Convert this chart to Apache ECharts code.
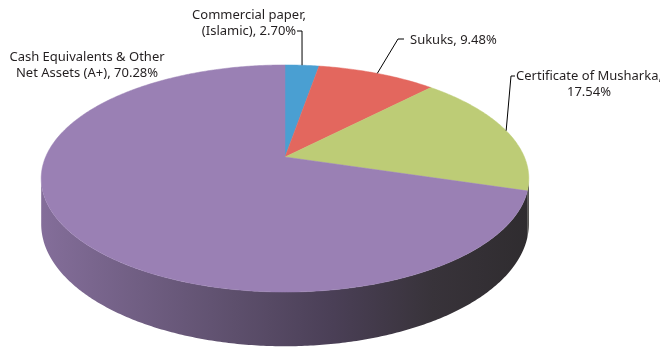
<!DOCTYPE html>
<html><head><meta charset="utf-8">
<script src="https://cdn.jsdelivr.net/npm/echarts@6/dist/echarts.min.js"></script>
<style>html,body{margin:0;padding:0;background:#fff}#c{width:660px;height:349px}</style>
</head><body><div id="c"></div>
<script>
// ---- data ----
const categories = ['Commercial paper,\n(Islamic)', 'Sukuks', 'Certificate of Musharka', 'Cash Equivalents & Other\nNet Assets (A+)'];
const values = [2.70, 9.48, 17.54, 70.28];
const colors = ['#4a9fd2', '#e3675e', '#bdcc76', '#9a80b4'];

// ---- label placement (annotation layout, not data) ----
const labelLayout = [
  {sep: ', ', x: 249, y: 23, align: 'center', path: [[302, 31], [297, 31]]},
  {sep: ', ', x: 410, y: 40, align: 'left', path: [[398, 39], [404, 39]]},
  {sep: ',\n', x: 589, y: 84, align: 'center', path: [[511, 76], [515, 76]]},
  {sep: ', ', x: 87, y: 65, align: 'center', path: null}
];

// ---- projection of a tilted disc (perspective) ----
const CX = 285, CY = 157, F = 1264, G = 578, Z0 = 5.28, D = 232;
function proj(th, h) {
  const X = Math.sin(th), Y = -Math.cos(th), z = Z0 - Y;
  return [CX + F * X / z, CY + G * Y / z + h * D / z];
}
const total = values.reduce((a, b) => a + b, 0);
const cum = [];
values.reduce((a, v, i) => { cum[i] = a; return a + v; }, 0);
const VIS0 = Math.PI / 2 + Math.asin(1 / Z0), VIS1 = 3 * Math.PI / 2 - Math.asin(1 / Z0);

function hex(c) { return [1, 3, 5].map(i => parseInt(c.substr(i, 2), 16)); }
function mix(a, b, t) {
  const A = hex(a), B = hex(b);
  return 'rgb(' + A.map((v, i) => Math.round(v + (B[i] - v) * t)).join(',') + ')';
}
function arc(a0, a1, h) {
  const pts = [], n = Math.max(2, Math.ceil((a1 - a0) / 0.01));
  for (let k = 0; k <= n; k++) pts.push(proj(a0 + (a1 - a0) * k / n, h));
  return pts;
}

const chart = echarts.init(document.getElementById('c'), null, {renderer: 'canvas'});
chart.setOption({
  animation: false,
  series: [{
    type: 'custom',
    coordinateSystem: 'none',
    data: values.map((v, i) => ({value: v, name: categories[i]})),
    renderItem: function (params, api) {
      const i = params.dataIndex;
      const v = api.value(0);
      const a0 = cum[i] / total * 2 * Math.PI, a1 = (cum[i] + v) / total * 2 * Math.PI;
      const col = colors[i];
      const children = [];
      // side
      const s0 = Math.max(a0, VIS0), s1 = Math.min(a1, VIS1);
      if (s1 > s0) {
        const pts = arc(s0, s1, 0).concat(arc(s0, s1, 1).reverse());
        children.push({
          type: 'polygon', z2: 1, shape: {points: pts},
          style: {
            fill: {type: 'linear', x: 40, y: 0, x2: 530, y2: 0, global: true, colorStops: [
              {offset: 0, color: mix(col, '#2b2631', 0.2)},
              {offset: 0.4, color: mix(col, '#2b2631', 0.55)},
              {offset: 0.6, color: mix(col, '#2b2631', 0.72)},
              {offset: 0.8, color: mix(col, '#2b2829', 0.88)},
              {offset: 1, color: mix(col, '#2b2829', 0.96)}
            ]},
            stroke: null
          }
        });
      }
      // top
      const top = [[CX, CY]].concat(arc(a0, a1, 0));
      children.push({type: 'polygon', z2: 2, shape: {points: top}, style: {fill: col, stroke: col, lineWidth: 0.5}});
      // label
      const L = labelLayout[i];
      const txt = categories[i] + L.sep + v.toFixed(2) + '%';
      children.push({
        type: 'text', z2: 5, x: L.x, y: L.y,
        style: {text: txt, fill: '#231f20', font: '13px "Noto Sans"', align: L.align, verticalAlign: 'middle', lineHeight: 16}
      });
      if (L.path) {
        const m = proj((a0 + a1) / 2, 0);
        children.push({
          type: 'polyline', z2: 5, shape: {points: [m].concat(L.path)},
          style: {stroke: '#000', lineWidth: 1, fill: null}
        });
      }
      return {type: 'group', children: children};
    }
  }]
});
</script>
</body></html>
